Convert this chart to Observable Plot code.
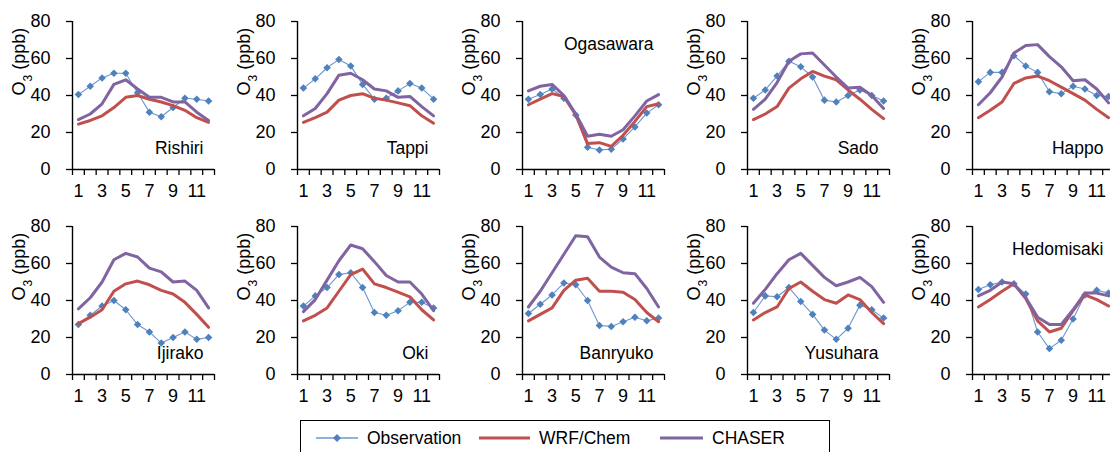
<!DOCTYPE html>
<html>
<head>
<meta charset="utf-8">
<script src="https://cdn.jsdelivr.net/npm/d3@7"></script>
<script src="https://cdn.jsdelivr.net/npm/@observablehq/plot@0.6"></script>
<style>
  body { margin: 0; background: #fff; overflow: hidden; }
  #chart { position: relative; width: 1110px; height: 452px; overflow: hidden;
           font-family: "Liberation Sans", Arial, sans-serif; color: #000; }
  .panel { position: absolute; width: 225px; height: 200px; }
  #legend { position: absolute; left: 300px; top: 420px; width: 530px; height: 44px;
            border: 1px solid #000; box-sizing: border-box; background: #fff; }
</style>
</head>
<body>
<div id="chart"></div>
<script>
// ---------- data ----------
const months = [1, 2, 3, 4, 5, 6, 7, 8, 9, 10, 11, 12];
const stations = ["Rishiri", "Tappi", "Ogasawara", "Sado", "Happo",
                  "Ijirako", "Oki", "Banryuko", "Yusuhara", "Hedomisaki"];
const seriesNames = ["Observation", "WRF/Chem", "CHASER"];
const yTicks = [0, 20, 40, 60, 80];
const xTickLabels = [1, 3, 5, 7, 9, 11];
const yLabelParts = ["O", "3", " (ppb)"];

const observation = [
  [40.5, 45, 49.5, 52, 52, 41.5, 31, 28.5, 33.5, 38.5, 38, 37],
  [44, 49, 55, 59.5, 56, 46, 38, 38.5, 42.5, 46.5, 44, 38],
  [38, 40.5, 43.5, 38.5, 29.5, 12, 10.5, 11, 16.5, 23, 30.5, 35],
  [38.5, 43, 50.5, 58.5, 55.5, 50, 37.5, 36.5, 40, 43, 40, 37],
  [47.5, 52.5, 52.5, 61.5, 56, 52.5, 42, 41, 45, 43.5, 40, 39.5],
  [27, 32, 37, 40, 35, 27, 23, 17, 20, 23, 19, 20],
  [37, 42.5, 47, 54, 55, 47, 33.5, 32, 34.5, 39, 39, 36],
  [33, 38, 43, 49.5, 48.5, 40, 26.5, 26, 28.5, 31, 29, 30.5],
  [33.5, 42.5, 42, 47, 39.5, 32.5, 24, 19, 25, 37.5, 35, 30.5],
  [46, 48.5, 50, 49, 43.5, 23, 14, 18.5, 30, 43, 45.5, 44]
];
const wrfChem = [
  [24.5, 26.5, 29, 33.5, 39, 40, 38, 36.5, 34.5, 32, 28, 25.5],
  [25.5, 28, 31, 37.5, 40, 41, 38.5, 37.5, 36, 34.5, 29, 25],
  [35, 38, 41, 39.5, 29.5, 14, 14.5, 12.5, 18.5, 26, 34, 35.5],
  [27, 30, 34, 44, 49, 53, 50.5, 48.5, 43, 38, 32.5, 27.5],
  [28, 32, 36.5, 46.5, 49.5, 50.5, 48, 44.5, 41, 37.5, 32.5, 28],
  [27.5, 31, 35, 45, 49, 50.5, 48.5, 45.5, 43.5, 39, 32.5, 25.5],
  [29, 32, 36, 45, 54, 57, 49, 47, 44.5, 42, 35, 29.5],
  [29, 32.5, 36, 45.5, 51, 52, 45, 45, 44.5, 40.5, 33.5, 28.5],
  [29.5, 33.5, 36.5, 46.5, 50, 45, 40.5, 38.5, 43, 40.5, 33.5, 27.5],
  [36.5, 40.5, 45, 49, 41, 29, 23, 25, 34.5, 43, 40.5, 37]
];
const chaser = [
  [27, 30, 35.5, 46, 48.5, 43.5, 39, 39, 36.5, 36.5, 31, 26.5],
  [29, 33, 41, 51, 52, 48.5, 43.5, 42.5, 39, 39.5, 34, 29],
  [42.5, 45, 46, 40, 30, 18, 19, 18, 21.5, 29, 37, 40.5],
  [32.5, 38, 47, 58.5, 62.5, 63, 56.5, 50, 44, 44.5, 40, 33],
  [35, 41.5, 50, 63, 67, 67.5, 61, 55.5, 48, 48.5, 43.5, 36],
  [35.5, 41.5, 50, 62, 65.5, 63.5, 57.5, 55.5, 50, 50.5, 45.5, 36],
  [34, 40.5, 51, 61.5, 70, 68, 61, 53.5, 50, 50, 43.5, 34.5],
  [36.5, 45, 55, 65, 75, 74.5, 63.5, 58, 55, 54.5, 46.5, 36.5],
  [38.5, 46, 54.5, 62, 65.5, 59, 52.5, 48, 50, 52.5, 47.5, 39],
  [42.5, 45.5, 50, 49, 41.5, 31, 27, 27, 35, 44, 44, 42.5]
];

// ---------- styling / layout ----------
const colors = {obs: "#4f81bd", obsLine: "#6b97cf", wrf: "#c0504d", chaser: "#8064a2"};
const font = "'Liberation Sans', Arial, sans-serif";
const fs = 17.5, tfs = 18;
const topLabelStations = new Set(["Ogasawara", "Hedomisaki"]);
const chart = document.getElementById("chart");

stations.forEach((name, i) => {
  const col = i % 5, row = Math.floor(i / 5);
  const rows = months.map((m, j) => ({m, obs: observation[i][j], wrf: wrfChem[i][j], chaser: chaser[i][j]}));
  const top = topLabelStations.has(name);
  const plot = Plot.plot({
    width: 225, height: 200,
    marginLeft: 72, marginRight: 11, marginTop: 21, marginBottom: 31,
    style: {fontFamily: font, fontSize: fs + "px", color: "#000", background: "transparent", overflow: "visible"},
    x: {type: "linear", domain: [0.5, 12.5]},
    y: {domain: [0, 80]},
    marks: [
      Plot.axisY({ticks: yTicks, tickSize: 6, tickPadding: 16, label: null, fontSize: tfs, strokeWidth: 1.3}),
      Plot.axisX({ticks: d3.range(0.5, 12.6, 1), tickSize: 6, tickFormat: () => "", label: null, strokeWidth: 1.3}),
      Plot.axisX({ticks: xTickLabels, tickSize: 0, tickPadding: 15, label: null, fontSize: tfs}),
      Plot.ruleX([0.5], {stroke: "#000", strokeWidth: 1.4}),
      Plot.ruleY([0], {stroke: "#000", strokeWidth: 1.4}),
      Plot.lineY(rows, {x: "m", y: "obs", stroke: colors.obsLine, strokeWidth: 1.1}),
      Plot.dot(rows, {x: "m", y: "obs", symbol: "diamond2", r: 3.4, fill: colors.obs, stroke: "none"}),
      Plot.lineY(rows, {x: "m", y: "wrf", stroke: colors.wrf, strokeWidth: 3}),
      Plot.lineY(rows, {x: "m", y: "chaser", stroke: colors.chaser, strokeWidth: 3}),
      Plot.text([name], {frameAnchor: top ? "top-right" : "bottom-right", dx: -11, dy: top ? 16 : -16,
                         textAnchor: "end", fontSize: fs}),
      Plot.text([yLabelParts.join("")], {frameAnchor: "left", rotate: -90, dx: -53, fontSize: tfs,
                                         className: "ylab"})
    ]
  });
  // render the subscript of O3 as a real subscript tspan
  d3.select(plot).selectAll("g.ylab text").each(function () {
    const t = d3.select(this);
    t.text(null);
    t.append("tspan").text(yLabelParts[0]);
    t.append("tspan").attr("baseline-shift", "sub").attr("font-size", "12px").text(yLabelParts[1]);
    t.append("tspan").text(yLabelParts[2]);
  });
  const wrap = document.createElement("div");
  wrap.className = "panel";
  wrap.style.left = (225 * col) + "px";
  wrap.style.top = (205 * row) + "px";
  wrap.appendChild(plot);
  chart.appendChild(wrap);
});

// ---------- legend ----------
const legend = d3.select(chart).append("div").attr("id", "legend");
const lsvg = legend.append("svg").attr("width", 530).attr("height", 44)
  .style("font-family", font).style("font-size", "17.5px");
const items = [
  {name: seriesNames[0], x0: 15, x1: 57, color: colors.obsLine, w: 1.5, marker: true, tx: 66},
  {name: seriesNames[1], x0: 178, x1: 229, color: colors.wrf, w: 3, marker: false, tx: 238},
  {name: seriesNames[2], x0: 359, x1: 402, color: colors.chaser, w: 3, marker: false, tx: 411}
];
const ly = 17;
items.forEach(it => {
  lsvg.append("line").attr("x1", it.x0).attr("x2", it.x1).attr("y1", ly).attr("y2", ly)
    .attr("stroke", it.color).attr("stroke-width", it.w);
  if (it.marker) {
    const cx = (it.x0 + it.x1) / 2;
    lsvg.append("path").attr("d", `M${cx},${ly - 4}L${cx + 4},${ly}L${cx},${ly + 4}L${cx - 4},${ly}Z`)
      .attr("fill", colors.obs);
  }
  lsvg.append("text").attr("x", it.tx).attr("y", ly).attr("dy", "0.35em").text(it.name);
});
</script>
</body>
</html>
